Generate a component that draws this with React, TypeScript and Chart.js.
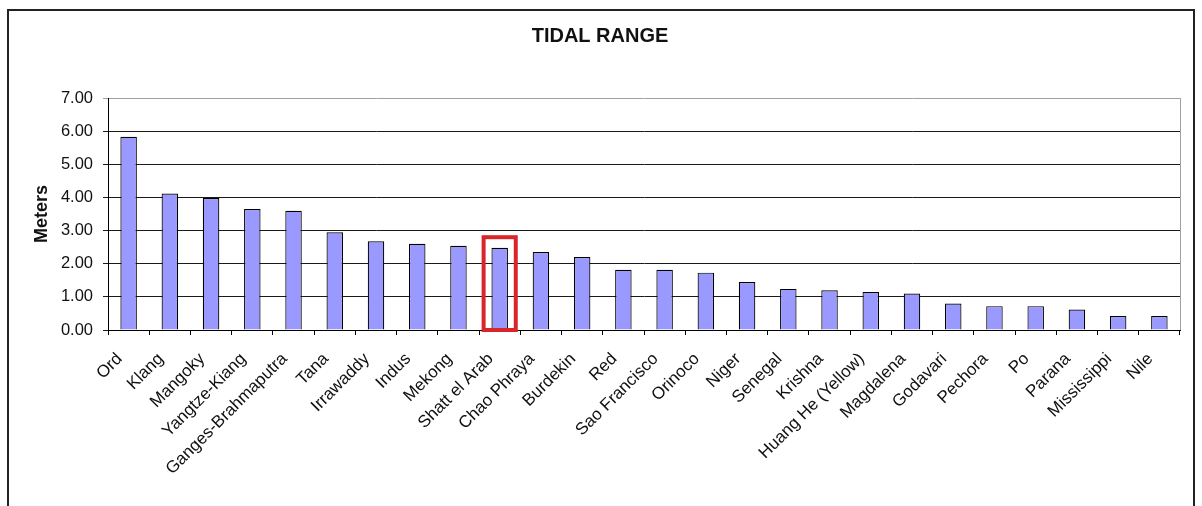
import React, { useEffect, useRef } from "react";
import { Chart, registerables } from "chart.js";

Chart.register(...registerables);

// Rivers, ordered by tidal range
const rivers: string[] = [
  "Ord", "Klang", "Mangoky", "Yangtze-Kiang", "Ganges-Brahmaputra", "Tana",
  "Irrawaddy", "Indus", "Mekong", "Shatt el Arab", "Chao Phraya", "Burdekin",
  "Red", "Sao Francisco", "Orinoco", "Niger", "Senegal", "Krishna",
  "Huang He (Yellow)", "Magdalena", "Godavari", "Pechora", "Po", "Parana",
  "Mississippi", "Nile",
];

// Tidal range in meters
const tidalRange: number[] = [
  5.83, 4.12, 3.98, 3.65, 3.6, 2.95,
  2.68, 2.6, 2.54, 2.48, 2.35, 2.2,
  1.82, 1.82, 1.73, 1.45, 1.24, 1.2,
  1.15, 1.1, 0.8, 0.72, 0.72, 0.62,
  0.42, 0.42,
];

// Outlined river and the height of its outline box (meters)
const highlightRiver = "Shatt el Arab";
const highlightTop = 2.8;

const yTicks: number[] = [0, 1, 2, 3, 4, 5, 6, 7];

const FONT = "'Liberation Sans', Arial, sans-serif";

// Frame around the whole chart, a grey edge on the plot area and the red outline
const decorations = {
  id: "decorations",
  afterDatasetsDraw(chart: any) {
    const { ctx, chartArea, scales } = chart;
    ctx.save();
    // grey right edge of the plot area
    ctx.strokeStyle = "#a0a0a0";
    ctx.lineWidth = 1;
    ctx.beginPath();
    ctx.moveTo(Math.round(chartArea.right) + 0.5, chartArea.top);
    ctx.lineTo(Math.round(chartArea.right) + 0.5, chartArea.bottom);
    ctx.stroke();

    // red outline box around the highlighted river
    const idx = rivers.indexOf(highlightRiver);
    if (idx >= 0) {
      const x = scales.x.getPixelForValue(idx);
      const half = (chartArea.width / rivers.length) * 0.39;
      const yTop = scales.y.getPixelForValue(highlightTop);
      const yBot = scales.y.getPixelForValue(0);
      ctx.strokeStyle = "#d9262b";
      ctx.lineWidth = 4;
      ctx.strokeRect(x - half, yTop, half * 2, yBot - yTop);
    }

    // outer frame
    ctx.strokeStyle = "#222";
    ctx.lineWidth = 2;
    ctx.strokeRect(8, 10, 1186, 520);
    ctx.restore();
  },
};

export default function App() {
  const canvasRef = useRef<HTMLCanvasElement | null>(null);

  useEffect(() => {
    document.body.style.margin = "0";
    const canvas = canvasRef.current;
    if (!canvas) return;

    const chart = new Chart(canvas, {
      type: "bar",
      data: {
        labels: rivers,
        datasets: [
          {
            label: "Tidal range",
            data: tidalRange,
            backgroundColor: "#9999ff",
            borderColor: "#000",
            borderWidth: 1.2,
            barPercentage: 0.4,
            categoryPercentage: 1,
          },
        ],
      },
      options: {
        animation: false,
        responsive: false,
        events: [],
        layout: { padding: { left: 20, right: 22, top: 0, bottom: 0 } },
        plugins: {
          legend: { display: false },
          tooltip: { enabled: false },
          title: {
            display: true,
            text: "TIDAL RANGE",
            color: "#111",
            font: { family: FONT, size: 20, weight: "bold" },
            padding: { top: 24, bottom: 50 },
          },
        },
        scales: {
          x: {
            offset: true,
            grid: {
              offset: true,
              drawOnChartArea: false,
              drawTicks: true,
              tickLength: 5,
              color: "#000",
            },
            border: { display: true, color: "#000", width: 1 },
            ticks: {
              autoSkip: false,
              maxRotation: 45,
              minRotation: 45,
              color: "#111",
              padding: 14,
              labelOffset: -9,
              font: { family: FONT, size: 17 },
            },
            afterFit(scale: any) {
              scale.height = 176;
            },
          },
          y: {
            min: 0,
            max: 7,
            afterBuildTicks(scale: any) {
              scale.ticks = yTicks.map((v) => ({ value: v }));
            },
            grid: {
              drawTicks: true,
              tickLength: 5,
              color: (c: any) =>
                c.tick && c.tick.value === 7 ? "#a0a0a0" : "#1a1a1a",
            },
            border: { display: true, color: "#000", width: 1 },
            ticks: {
              color: "#111",
              padding: 10,
              font: { family: FONT, size: 16.5 },
              callback: (v: any) => Number(v).toFixed(2),
            },
            title: {
              display: true,
              text: "Meters",
              color: "#111",
              font: { family: FONT, size: 18, weight: "bold" },
              padding: { top: 11, bottom: 0 },
            },
            afterFit(scale: any) {
              scale.width = 88;
            },
          },
        },
      },
      plugins: [decorations],
    });

    return () => chart.destroy();
  }, []);

  return (
    <canvas
      ref={canvasRef}
      width={1202}
      height={506}
      style={{ display: "block", width: 1202, height: 506 }}
    />
  );
}
